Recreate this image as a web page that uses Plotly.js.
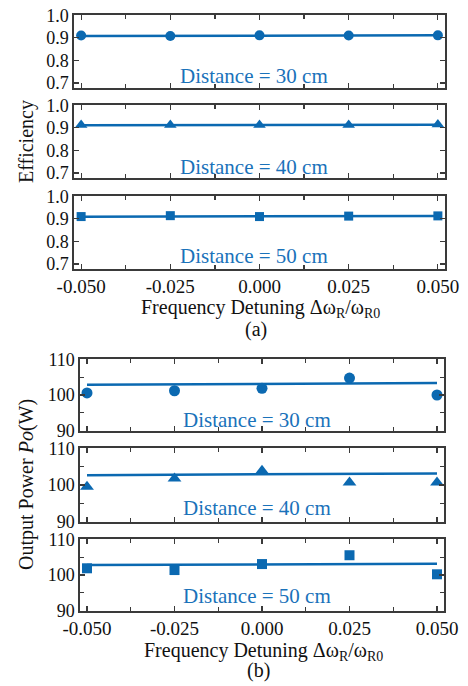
<!DOCTYPE html>
<html>
<head>
<meta charset="utf-8">
<script src="https://cdn.plot.ly/plotly-3.0.1.min.js"></script>
<style>html,body{margin:0;padding:0;background:#fff;}#chart{width:468px;height:686px;}</style>
</head>
<body>
<div id="chart"></div>
<script>
// ---- data ----
var xVals = [-0.05, -0.025, 0, 0.025, 0.05];
var xTickVals = [-0.05, -0.025, 0, 0.025, 0.05];
var xTickText = ["-0.050", "-0.025", "0.000", "0.025", "0.050"];
var fitX = [-0.05, 0.05];

var distances = ["Distance = 30 cm", "Distance = 40 cm", "Distance = 50 cm"];

var effD30 = [0.910, 0.908, 0.911, 0.910, 0.911];
var effD40 = [0.912, 0.913, 0.912, 0.913, 0.915];
var effD50 = [0.910, 0.914, 0.910, 0.912, 0.913];
var effFit30 = [0.908, 0.911];
var effFit40 = [0.911, 0.914];
var effFit50 = [0.909, 0.913];
var effTickVals = [0.7, 0.8, 0.9, 1.0];
var effTickText = ["0.7", "0.8", "0.9", "1.0"];

var powD30 = [100.6, 101.2, 101.9, 104.8, 100.0];
var powD40 = [99.5, 101.8, 103.9, 100.7, 100.7];
var powD50 = [101.9, 101.4, 103.1, 105.6, 100.2];
var powFit30 = [102.9, 103.4];
var powFit40 = [102.7, 103.2];
var powFit50 = [102.8, 103.2];
var powTickVals = [90, 100, 110];
var powTickText = ["90", "100", "110"];

// ---- style ----
var W = 468, H = 686;
var BLUE = "#0b69b1";
var TXT = "#1a72ba";
var FONT = "'Liberation Serif', 'Times New Roman', Times, serif";
var AX = "#3a3a3a";
var XTICKSZ = 19, YTICKSZ = 18;

function py(px) { return 1 - px / H; }
function px(p) { return p / W; }

var effData = [effD30, effD40, effD50];
var effFits = [effFit30, effFit40, effFit50];
var powData = [powD30, powD40, powD50];
var powFits = [powFit30, powFit40, powFit50];
var symbols = ["circle", "triangle-up", "square"];
var msizes = [10, 11, 9];

var traces = [];
var layout = {
  width: W, height: H,
  margin: {l: 0, r: 0, t: 0, b: 0},
  paper_bgcolor: "#fff", plot_bgcolor: "#fff",
  showlegend: false,
  font: {family: FONT, size: 18, color: "#111"},
  annotations: []
};

// panel pixel boxes [top, bottom]
var aBoxes = [[15, 88], [105, 178], [196, 269]];
var bBoxes = [[359, 431], [448, 522], [539, 611]];
var aX = [74, 445], bX = [80, 444];

function addPanel(idx, xpx, ypx, showX, yrange, ytv, ytt, yminor, data, fit, sym, ms) {
  var xn = idx === 1 ? "x" : "x" + idx;
  var yn = idx === 1 ? "y" : "y" + idx;
  var xk = idx === 1 ? "xaxis" : "xaxis" + idx;
  var yk = idx === 1 ? "yaxis" : "yaxis" + idx;
  layout[xk] = {
    domain: [px(xpx[0]), px(xpx[1])],
    anchor: yn,
    range: [-0.052, 0.052],
    tickmode: "array", tickvals: xTickVals, ticktext: xTickText,
    showticklabels: showX,
    ticks: "inside", ticklen: 5, tickwidth: 1.2, tickcolor: AX,
    minor: {tickmode: "array", tickvals: [-0.0375, -0.0125, 0.0125, 0.0375], ticks: "inside", ticklen: 4, tickwidth: 1.2, tickcolor: AX, showgrid: false},
    showline: true, linecolor: AX, linewidth: 1.6, mirror: "allticks",
    showgrid: false, zeroline: false,
    tickfont: {family: FONT, size: XTICKSZ, color: "#111"}
  };
  layout[yk] = {
    domain: [py(ypx[1]), py(ypx[0])],
    anchor: xn,
    range: yrange,
    tickmode: "array", tickvals: ytv, ticktext: ytt,
    ticks: "inside", ticklen: 5, tickwidth: 1.2, tickcolor: AX,
    minor: yminor,
    showline: true, linecolor: AX, linewidth: 1.6, mirror: "allticks",
    showgrid: false, zeroline: false,
    tickfont: {family: FONT, size: YTICKSZ, color: "#111"}
  };
  traces.push({
    x: fitX, y: fit, xaxis: xn, yaxis: yn, mode: "lines",
    line: {color: BLUE, width: 2.5}, hoverinfo: "skip"
  });
  traces.push({
    x: xVals, y: data, xaxis: xn, yaxis: yn, mode: "markers",
    marker: {symbol: sym, size: ms, color: BLUE, line: {width: 0}}, cliponaxis: false
  });
}

for (var i = 0; i < 3; i++) {
  addPanel(i + 1, aX, aBoxes[i], i === 2, [0.678, 1.001], effTickVals, effTickText,
    {tickmode: "array", tickvals: [0.75, 0.85, 0.95], ticks: "", showgrid: false},
    effData[i], effFits[i], symbols[i], msizes[i]);
  addPanel(i + 4, bX, bBoxes[i], i === 2, [89.8, 110.2], powTickVals, powTickText,
    {tickmode: "array", tickvals: [95, 105], ticks: "inside", ticklen: 4, tickwidth: 1.2, tickcolor: AX, showgrid: false},
    powData[i], powFits[i], symbols[i], msizes[i] + 1);
}

var aText = [76, 167, 256];
var bText = [420, 508, 596];
for (var j = 0; j < 3; j++) {
  layout.annotations.push({xref: "paper", yref: "paper", x: px(254), y: py(aText[j]), text: distances[j],
    showarrow: false, xanchor: "center", yanchor: "middle", font: {family: FONT, size: 21, color: TXT}});
  layout.annotations.push({xref: "paper", yref: "paper", x: px(257), y: py(bText[j]), text: distances[j],
    showarrow: false, xanchor: "center", yanchor: "middle", font: {family: FONT, size: 21, color: TXT}});
}

var xTitle = "Frequency Detuning Δω<sub>R</sub>/ω<sub>R0</sub>";
layout.annotations.push({xref: "paper", yref: "paper", x: px(260), y: py(308), text: xTitle, showarrow: false,
  xanchor: "center", yanchor: "middle", font: {family: FONT, size: 20, color: "#111"}});
layout.annotations.push({xref: "paper", yref: "paper", x: px(263), y: py(651), text: xTitle, showarrow: false,
  xanchor: "center", yanchor: "middle", font: {family: FONT, size: 20, color: "#111"}});
layout.annotations.push({xref: "paper", yref: "paper", x: px(256), y: py(329), text: "(a)", showarrow: false,
  xanchor: "center", yanchor: "middle", font: {family: FONT, size: 20, color: "#111"}});
layout.annotations.push({xref: "paper", yref: "paper", x: px(258), y: py(670), text: "(b)", showarrow: false,
  xanchor: "center", yanchor: "middle", font: {family: FONT, size: 20, color: "#111"}});
layout.annotations.push({xref: "paper", yref: "paper", x: px(26), y: py(142), text: "Efficiency", showarrow: false,
  textangle: -90, xanchor: "center", yanchor: "middle", font: {family: FONT, size: 20, color: "#111"}});
layout.annotations.push({xref: "paper", yref: "paper", x: px(26), y: py(485), text: "Output Power <i>Po</i>(W)", showarrow: false,
  textangle: -90, xanchor: "center", yanchor: "middle", font: {family: FONT, size: 20, color: "#111"}});

Plotly.newPlot("chart", traces, layout, {staticPlot: true, displayModeBar: false});
</script>
</body>
</html>
